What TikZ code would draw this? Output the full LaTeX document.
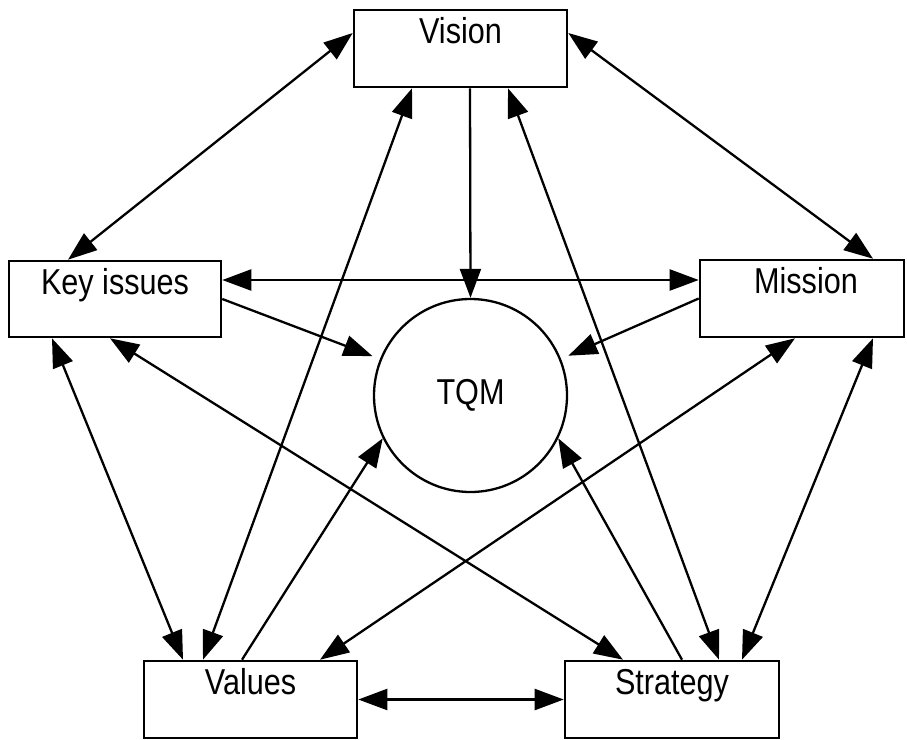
\documentclass[tikz,border=0pt]{standalone}
\usepackage{fontspec}
\setmainfont{Liberation Sans}[FakeStretch=0.85]
\usetikzlibrary{arrows.meta}
\begin{document}
\begin{tikzpicture}[x=1pt,y=-1pt,
  box/.style={draw, line width=2.6pt, inner sep=0pt},
  lbl/.style={anchor=base, inner sep=0pt, font=\fontsize{36}{40}\selectfont},
  link/.style={line width=2.3pt, -{Triangle[length=29pt,width=21pt]}},
  both/.style={line width=2.3pt, {Triangle[length=29pt,width=21pt]}-{Triangle[length=29pt,width=21pt]}}]
\useasboundingbox (0,0) rectangle (907,739);

% boxes
\node[box, minimum width=213pt, minimum height=77pt] (vision) at (460.5,48.5) {};
\node[box, minimum width=212pt, minimum height=76pt] (keyissues) at (115,299) {};
\node[box, minimum width=204pt, minimum height=77pt] (mission) at (802,298.5) {};
\node[box, minimum width=213pt, minimum height=77pt] (values) at (250.5,699.5) {};
\node[box, minimum width=214pt, minimum height=77pt] (strategy) at (672,699.5) {};
\node[draw, circle, line width=2.3pt, minimum size=193pt, inner sep=0pt,
      font=\fontsize{36}{40}\selectfont] (tqm) at (470.5,395.5) {TQM};

% box captions
\node[lbl] (visiont) at ([yshift=-35pt]vision.north) {Vision};
\node[lbl] (keyissuest) at ([yshift=-35pt]keyissues.north) {Key issues};
\node[lbl] (missiont) at ([xshift=4pt,yshift=-35pt]mission.north) {Mission};
\node[lbl] (valuest) at ([yshift=-35pt]values.north) {Values};
\node[lbl] (strategyt) at ([yshift=-35pt]strategy.north) {Strategy};

% connectors
\draw[both] ([yshift=15.5pt]vision.west) -- ([xshift=-47pt]keyissues.north);
\draw[both] ([yshift=15.5pt]vision.east) -- ([xshift=71pt]mission.north);
\draw[link] ([xshift=9.5pt]vision.south) -- (tqm.north);
\draw[both] ([xshift=-48.5pt]vision.south) -- ([xshift=-47.5pt]values.north);
\draw[both] ([xshift=47.5pt]vision.south) -- ([xshift=47pt]strategy.north);
\draw[both] ([yshift=19pt]keyissues.east) -- ([yshift=18.5pt]mission.west);
\draw[link, shorten >=8pt] (keyissues.east) -- (tqm.158);
\draw[link, shorten >=8pt] (mission.west) -- (tqm.22);
\draw[both] ([xshift=-63pt]keyissues.south) -- ([xshift=-67.5pt]values.north);
\draw[both] ([xshift=-5pt]keyissues.south) -- ([xshift=-49pt]strategy.north);
\draw[both] ([xshift=-7pt]mission.south) -- ([xshift=69.5pt]values.north);
\draw[both] ([xshift=71pt]mission.south) -- ([xshift=70pt]strategy.north);
\draw[link] ([xshift=-8.5pt]values.north) -- (tqm.206);
\draw[link] ([xshift=10pt]strategy.north) -- (tqm.334);
\draw[both] (values.east) -- (strategy.west);
\end{tikzpicture}
\end{document}
